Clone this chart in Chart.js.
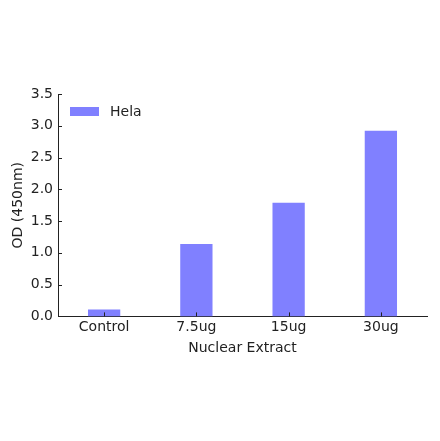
<!DOCTYPE html>
<html>
<head>
<meta charset="utf-8">
<script src="https://cdn.jsdelivr.net/npm/chart.js@4/dist/chart.umd.min.js"></script>
<style>
  html, body { margin: 0; padding: 0; background: #fff; }
  #wrap { width: 440px; height: 441px; }
</style>
</head>
<body>
<div id="wrap"><canvas id="c" width="440" height="441"></canvas></div>
<script>
// values
const categories = ['Control', '7.5ug', '15ug', '30ug'];
const hela = [0.11, 1.14, 1.79, 2.92];
const seriesName = 'Hela';
const BAR = '#8080ff';
const INK = '#222';
const font = { family: "'DejaVu Sans', sans-serif", size: 14 };

// matplotlib-style inward ticks + legend inside the plot
const decor = {
  id: 'decor',
  afterDraw(chart) {
    const { ctx, chartArea: a, scales: { x, y } } = chart;
    ctx.save();
    ctx.strokeStyle = INK;
    ctx.lineWidth = 1;
    ctx.beginPath();
    y.ticks.forEach(t => {
      const py = Math.round(y.getPixelForValue(t.value)) + 0.5;
      ctx.moveTo(a.left, py); ctx.lineTo(a.left + 4, py);
    });
    categories.forEach((c, i) => {
      const px = Math.round(x.getPixelForValue(i)) + 0.5;
      ctx.moveTo(px, a.bottom); ctx.lineTo(px, a.bottom - 4);
    });
    ctx.stroke();

    // legend
    ctx.fillStyle = BAR;
    ctx.fillRect(a.left + 12, a.top + 13, 29, 9);
    ctx.fillStyle = INK;
    ctx.font = `${font.size}px ${font.family}`;
    ctx.textBaseline = 'middle';
    ctx.fillText(seriesName, a.left + 52, a.top + 18);
    ctx.restore();
  }
};

new Chart(document.getElementById('c'), {
  type: 'bar',
  plugins: [decor],
  data: {
    labels: categories,
    datasets: [{ label: seriesName, data: hela, backgroundColor: BAR,
                 borderWidth: 0, barPercentage: 0.35, categoryPercentage: 1 }]
  },
  options: {
    responsive: false, animation: false,
    layout: { padding: { top: 94, right: 13, left: 10, bottom: 84 } },
    plugins: { legend: { display: false }, tooltip: { enabled: false } },
    scales: {
      x: {
        grid: { display: false, drawTicks: false },
        border: { display: true, color: INK, width: 1 },
        ticks: { color: INK, font, padding: 3 },
        title: { display: true, text: 'Nuclear Extract', color: INK, font, padding: { top: 1, bottom: 0 } }
      },
      y: {
        min: 0, max: 3.5,
        grid: { display: false, drawTicks: false },
        border: { display: true, color: INK, width: 1 },
        ticks: { stepSize: 0.5, color: INK, font, padding: 5, callback: v => v.toFixed(1) },
        title: { display: true, text: 'OD (450nm)', color: INK, font, padding: 0 },
        afterFit: s => { s.width = 48; }
      }
    }
  }
});
</script>
</body>
</html>
